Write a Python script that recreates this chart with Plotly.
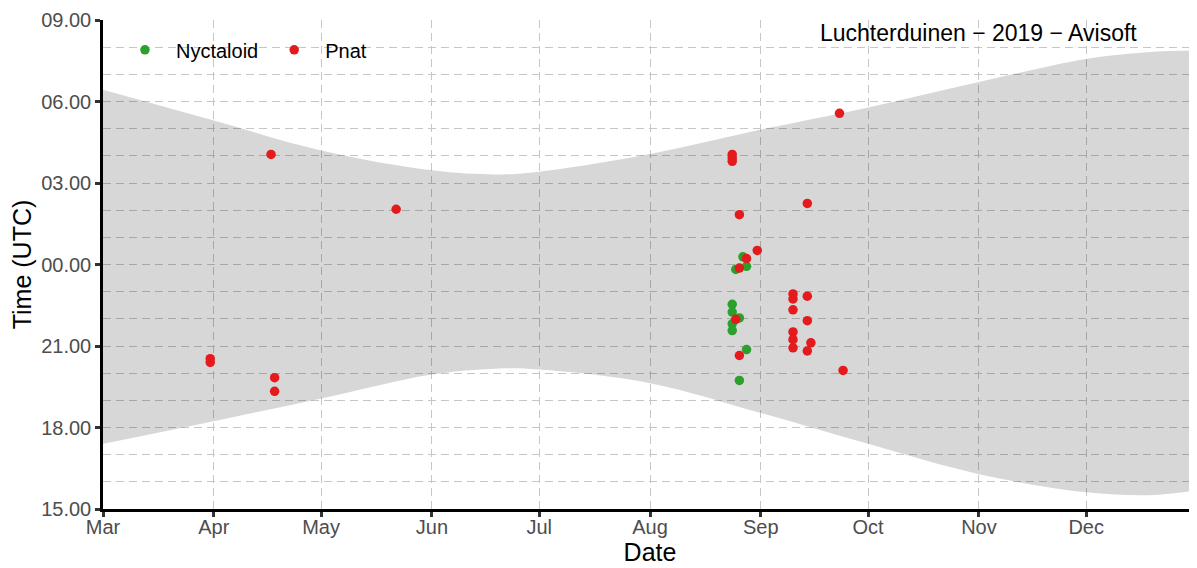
import plotly.graph_objects as go

# ---------------- data ----------------
nyct_dates = ["2019-08-24", "2019-08-24", "2019-08-24", "2019-08-24", "2019-08-25",
              "2019-08-26", "2019-08-26", "2019-08-27", "2019-08-28", "2019-08-28"]
nyct_times = ["22:32", "22:15", "21:49", "21:34", "23:49",
              "22:02", "19:44", "00:17", "23:56", "20:52"]

pnat_dates = ["2019-03-31", "2019-03-31", "2019-04-17", "2019-04-18", "2019-04-18",
              "2019-05-22", "2019-08-24", "2019-08-24", "2019-08-24", "2019-08-25",
              "2019-08-26", "2019-08-26", "2019-08-26", "2019-08-28", "2019-08-31",
              "2019-09-10", "2019-09-10", "2019-09-10", "2019-09-10", "2019-09-10",
              "2019-09-10", "2019-09-14", "2019-09-14", "2019-09-14", "2019-09-14",
              "2019-09-15", "2019-09-23", "2019-09-24"]
pnat_times = ["20:32", "20:24", "04:03", "19:50", "19:20",
              "02:02", "04:03", "03:55", "03:48", "21:59",
              "01:50", "23:52", "20:39", "00:13", "00:31",
              "22:55", "22:44", "22:20", "21:31", "21:14",
              "20:56", "02:15", "22:50", "21:56", "20:49",
              "21:07", "05:34", "20:06"]

# night band (sunset -> sunrise, UTC)
band_dates = ["2019-03-01", "2019-04-01", "2019-05-01", "2019-06-01", "2019-06-19",
              "2019-07-01", "2019-08-01", "2019-09-01", "2019-10-01", "2019-11-01",
              "2019-12-01", "2019-12-20", "2019-12-31"]
sunrise = ["06:26", "05:18", "04:12", "03:28", "03:19",
           "03:25", "04:04", "04:58", "05:47", "06:43",
           "07:34", "07:50", "07:53"]
sunset = ["17:24", "18:14", "19:04", "19:57", "20:10",
          "20:08", "19:38", "18:32", "17:24", "16:17",
          "15:37", "15:31", "15:40"]

month_ticks = ["2019-03-01", "2019-04-01", "2019-05-01", "2019-06-01", "2019-07-01",
               "2019-08-01", "2019-09-01", "2019-10-01", "2019-11-01", "2019-12-01"]
month_labels = ["Mar", "Apr", "May", "Jun", "Jul", "Aug", "Sep", "Oct", "Nov", "Dec"]

time_ticks = [-9, -6, -3, 0, 3, 6, 9]
time_labels = ["15.00", "18.00", "21.00", "00.00", "03.00", "06.00", "09.00"]


def to_y(t):
    h, m = map(int, t.split(":"))
    v = h + m / 60.0
    return v - 24 if v >= 12 else v


FONT = "Liberation Sans, Arial, sans-serif"
GREEN = "#2ca02c"
RED = "#e41a1c"

fig = go.Figure()

fig.add_trace(go.Scatter(
    x=band_dates, y=[to_y(t) for t in sunset], mode="lines",
    line=dict(width=0, shape="spline", smoothing=1.0, color="rgba(0,0,0,0)"),
    showlegend=False, hoverinfo="skip"))
fig.add_trace(go.Scatter(
    x=band_dates, y=[to_y(t) for t in sunrise], mode="lines",
    line=dict(width=0, shape="spline", smoothing=1.0, color="rgba(0,0,0,0)"),
    fill="tonexty", fillcolor="rgba(0,0,0,0.155)",
    showlegend=False, hoverinfo="skip"))

fig.add_trace(go.Scatter(
    x=nyct_dates, y=[to_y(t) for t in nyct_times], mode="markers",
    name="Nyctaloid", marker=dict(color=GREEN, size=9.5, line=dict(width=0))))
fig.add_trace(go.Scatter(
    x=pnat_dates, y=[to_y(t) for t in pnat_times], mode="markers",
    name="Pnat", marker=dict(color=RED, size=9.5, line=dict(width=0))))

fig.add_annotation(
    x=0.8, y=0.973, xref="paper", yref="paper", xanchor="center", yanchor="middle",
    text="Luchterduinen \u2212 2019 \u2212 Avisoft", showarrow=False,
    font=dict(family=FONT, size=23, color="black"))

grid = dict(showgrid=True, gridcolor="#c6c6c6", gridwidth=1, griddash="8px,5px")

fig.update_xaxes(
    type="date", range=["2019-03-01", "2020-01-01"], automargin=False,
    tickmode="array", tickvals=month_ticks, ticktext=month_labels,
    ticks="outside", ticklen=5, tickwidth=2.5, tickcolor="#333333",
    ticklabelstandoff=-7,
    tickfont=dict(family=FONT, size=20, color="#4d4d4d"),
    showline=True, linecolor="black", linewidth=2.5,
    zeroline=False,
    title=dict(text="Date", font=dict(family=FONT, size=25, color="black"), standoff=4),
    **grid)

fig.update_yaxes(
    range=[-9, 9], tickmode="array", tickvals=time_ticks, ticktext=time_labels,
    automargin=False,
    ticks="outside", ticklen=5, tickwidth=2.5, tickcolor="#333333",
    tickfont=dict(family=FONT, size=20, color="#4d4d4d"),
    showline=True, linecolor="black", linewidth=2.5,
    zeroline=False,
    minor=dict(dtick=1, tick0=0, showgrid=True, gridcolor="#c6c6c6",
               gridwidth=1, griddash="8px,5px", ticks=""),
    title=dict(text="Time (UTC)", font=dict(family=FONT, size=25, color="black"), standoff=8),
    **grid)

fig.update_layout(
    width=1189, height=560,
    margin=dict(l=95, r=0, t=12, b=59),
    plot_bgcolor="white", paper_bgcolor="white",
    legend=dict(orientation="h", x=0.01, y=0.939, xanchor="left", yanchor="middle",
                traceorder="normal",
                bgcolor="rgba(0,0,0,0)", itemwidth=52,
                font=dict(family=FONT, size=20, color="black")),
    font=dict(family=FONT),
)

fig.write_html("out.html")
